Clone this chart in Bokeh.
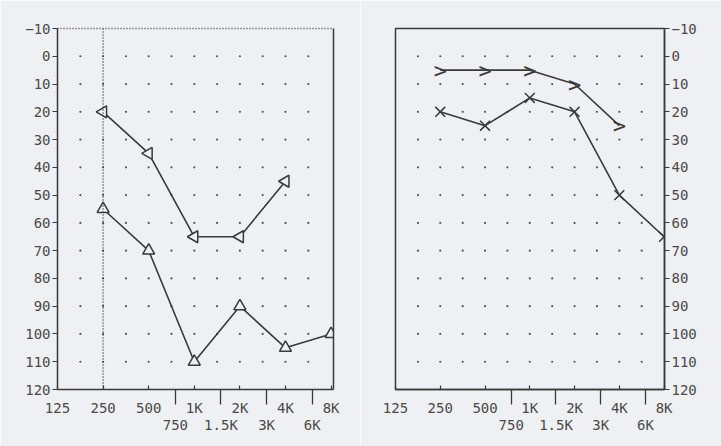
import numpy as np
from bokeh.plotting import figure
from bokeh.layouts import row
from bokeh.models import Range1d, FixedTicker, LogAxis, LinearAxis, Span, ColumnDataSource
from bokeh.core.properties import value
from bokeh.embed import file_html
from bokeh.resources import INLINE

# ---- axis definitions ----
freq_major = [125, 250, 500, 1000, 2000, 4000, 8000]
freq_major_labels = ["125", "250", "500", "1K", "2K", "4K", "8K"]
freq_inter = [750, 1500, 3000, 6000]
freq_inter_labels = ["750", "1.5K", "3K", "6K"]
levels = [-10, 0, 10, 20, 30, 40, 50, 60, 70, 80, 90, 100, 110, 120]

# dotted reference grid (half-octave columns, 10 dB rows)
grid_freqs = [177, 250, 354, 500, 707, 1000, 1414, 2000, 2828, 4000, 5657]
grid_levels = [0, 10, 20, 30, 40, 50, 60, 70, 80, 90, 100, 110]

# ---- left chart data ----
left_tri_l_freq = [250, 500, 1000, 2000, 4000]
left_tri_l_db = [20, 35, 65, 65, 45]
left_tri_u_freq = [250, 500, 1000, 2000, 4000, 8000]
left_tri_u_db = [55, 70, 110, 90, 105, 100]

# ---- right chart data ----
right_chev_freq = [250, 500, 1000, 2000, 4000]
right_chev_db = [5, 5, 5, 10, 25]
right_x_freq = [250, 500, 1000, 2000, 4000, 8000]
right_x_db = [20, 25, 15, 20, 50, 65]

BG = "#eef0f4"
INK = "#3a3a3a"
TXT = "#4a4a4a"
FONT = "DejaVu Sans Mono"
FS = "14px"


def base_panel(width, x_end, y_loc, bl, br):
    p = figure(width=width, height=446, output_backend="svg", toolbar_location=None,
               x_axis_type="log", x_range=Range1d(125, x_end), y_range=Range1d(120, -10),
               y_axis_location=y_loc, background_fill_color=BG, border_fill_color=BG,
               min_border_left=bl, min_border_right=br, min_border_top=28, min_border_bottom=57)
    p.grid.visible = False
    ya = p.yaxis[0]
    ya.ticker = FixedTicker(ticks=levels)
    ya.major_tick_in = 0
    ya.major_tick_out = 5
    ya.minor_tick_line_color = None
    ya.major_label_standoff = 2
    xa = p.xaxis[0]
    xa.ticker = FixedTicker(ticks=freq_major, minor_ticks=freq_inter)
    xa.major_label_overrides = {f: l for f, l in zip(freq_major, freq_major_labels)}
    xa.major_tick_in = 4
    xa.major_tick_out = 0
    xa.minor_tick_in = 0
    xa.minor_tick_out = 15
    xa.major_label_standoff = -5
    xa2 = LogAxis(ticker=FixedTicker(ticks=freq_inter),
                  major_label_overrides={f: l for f, l in zip(freq_inter, freq_inter_labels)},
                  axis_line_color=None, major_tick_line_color=None, minor_tick_line_color=None,
                  major_label_standoff=-8)
    p.add_layout(xa2, "below")
    for ax in [ya, xa, xa2]:
        ax.major_label_text_font = FONT
        ax.major_label_text_font_size = FS
        ax.major_label_text_color = TXT
    for ax in [ya, xa]:
        ax.axis_line_color = INK
        ax.axis_line_width = 1.5
        ax.major_tick_line_color = INK
        ax.major_tick_line_width = 1.2
    xa.minor_tick_line_color = INK
    xa.minor_tick_line_width = 1.3
    gx = [f for lv in grid_levels for f in grid_freqs]
    gy = [lv for lv in grid_levels for f in grid_freqs]
    p.scatter(gx, gy, marker="circle", size=2.2, color="#555555", line_color=None)
    return p


# ---------------- left panel ----------------
p1 = base_panel(360, 8300, "left", 57, 27)
p1.outline_line_color = None
top_ax = LinearAxis(ticker=FixedTicker(ticks=[]), axis_line_dash="1 2", axis_line_color=INK,
                    axis_line_width=1.5, major_tick_line_color=None, minor_tick_line_color=None)
p1.add_layout(top_ax, "above")
right_ax = LinearAxis(ticker=FixedTicker(ticks=[]), axis_line_color=INK, axis_line_width=1.5,
                      major_tick_line_color=None, minor_tick_line_color=None)
p1.add_layout(right_ax, "right")
p1.add_layout(Span(location=250, dimension="height", line_color=INK, line_dash="1 2", line_width=1.5))

p1.line(left_tri_l_freq, left_tri_l_db, line_color=INK, line_width=1.6)
p1.scatter(left_tri_l_freq, left_tri_l_db, marker="triangle", angle=np.pi / 2, size=12,
           fill_color=BG, line_color=INK, line_width=1.5)
p1.line(left_tri_u_freq, left_tri_u_db, line_color=INK, line_width=1.6)
p1.scatter(left_tri_u_freq, left_tri_u_db, marker="triangle", size=12,
           fill_color=BG, line_color=INK, line_width=1.5)

# ---------------- right panel ----------------
p2 = base_panel(361, 8050, "right", 35, 57)
p2.outline_line_color = INK
p2.outline_line_width = 1.5

p2.line(right_chev_freq, right_chev_db, line_color=INK, line_width=1.6)
p2.text(right_chev_freq, right_chev_db, text=value(">"), text_font=value(FONT),
        text_font_size="22px", text_align="center", text_baseline="middle", text_color=INK)
p2.line(right_x_freq, right_x_db, line_color=INK, line_width=1.6)
p2.scatter(right_x_freq, right_x_db, marker="x", size=14, line_color=INK, line_width=1.5)

layout = row(p1, p2, spacing=0)
open("out.html", "w").write(file_html(layout, INLINE))
